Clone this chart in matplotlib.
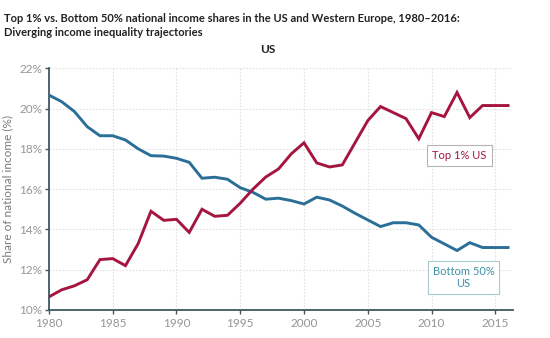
import matplotlib
matplotlib.use("Agg")
import matplotlib.pyplot as plt

plt.rcParams['font.family'] = ['Lato', 'DejaVu Sans']

years = list(range(1980, 2017))
top1_us = [10.65, 11.0, 11.2, 11.5, 12.5, 12.55, 12.2, 13.3, 14.9, 14.45,
           14.5, 13.85, 15.0, 14.65, 14.7, 15.3, 16.0, 16.6, 17.0, 17.75,
           18.3, 17.3, 17.1, 17.2, 18.3, 19.4, 20.1, 19.8, 19.5, 18.5,
           19.8, 19.6, 20.8, 19.55, 20.15, 20.15, 20.15]
bottom50_us = [20.67, 20.34, 19.85, 19.1, 18.65, 18.65, 18.44, 18.0, 17.66, 17.64,
               17.53, 17.33, 16.54, 16.59, 16.49, 16.07, 15.84, 15.5, 15.55, 15.43,
               15.26, 15.6, 15.46, 15.16, 14.8, 14.47, 14.14, 14.33, 14.33, 14.22,
               13.61, 13.28, 12.95, 13.34, 13.1, 13.1, 13.1]
y_ticks = [10, 12, 14, 16, 18, 20, 22]
x_ticks = [1980, 1985, 1990, 1995, 2000, 2005, 2010, 2015]

RED = '#a5163f'
BLUE = '#2b6f98'
TEAL = '#3b8fa5'
SPINE = '#3f5862'
TICK_TXT = '#959595'

fig = plt.figure(figsize=(5.5, 3.38), dpi=100)
fig.patch.set_facecolor('white')
ax = fig.add_axes([0.089, 0.083, 0.844, 0.715])

ax.plot(years, bottom50_us, color=BLUE, lw=2.1, solid_joinstyle='miter', zorder=3)
ax.plot(years, top1_us, color=RED, lw=2.1, solid_joinstyle='miter', zorder=3)

ax.set_xlim(1980, 2016.4)
ax.set_ylim(10, 22)
ax.set_xticks(x_ticks)
ax.set_yticks(y_ticks)
ax.set_yticklabels([f'{v}%' for v in y_ticks])
ax.tick_params(axis='both', colors=SPINE, labelcolor=TICK_TXT, labelsize=8.5,
               length=3, width=1)
ax.tick_params(axis='x', pad=3)
ax.tick_params(axis='y', pad=2)

for s in ['top', 'right']:
    ax.spines[s].set_visible(False)
for s in ['left', 'bottom']:
    ax.spines[s].set_color(SPINE)
    ax.spines[s].set_linewidth(1.3)

ax.grid(True, color='#e0e0e0', linestyle=(0, (1.5, 1.5)), linewidth=0.8, zorder=0)
ax.set_axisbelow(True)

ax.set_ylabel('Share of national income (%)', color='#7a7a7a', fontsize=8.5, labelpad=4)

ax.text(2012.2, 17.65, 'Top 1% US', color=RED, fontsize=8, ha='center', va='center',
        bbox=dict(boxstyle='square,pad=0.45', fc='white', ec='#b5b5b5', lw=0.8), zorder=4)
ax.text(2012.5, 11.6, 'Bottom 50%\nUS', color=TEAL, fontsize=8, ha='center', va='center',
        linespacing=1.15,
        bbox=dict(boxstyle='square,pad=0.45', fc='white', ec='#a9c9cf', lw=0.8), zorder=4)

fig.text(0.008, 0.962, 'Top 1% vs. Bottom 50% national income shares in the US and Western Europe, 1980\u20132016:\nDiverging income inequality trajectories',
         fontsize=8.0, fontweight='bold', color='#222222', ha='left', va='top', linespacing=1.35)
fig.text(0.487, 0.855, 'US', fontsize=8.6, fontweight='bold', color='#222222', ha='center', va='center')

fig.savefig('out.png', dpi=100, facecolor='white')
